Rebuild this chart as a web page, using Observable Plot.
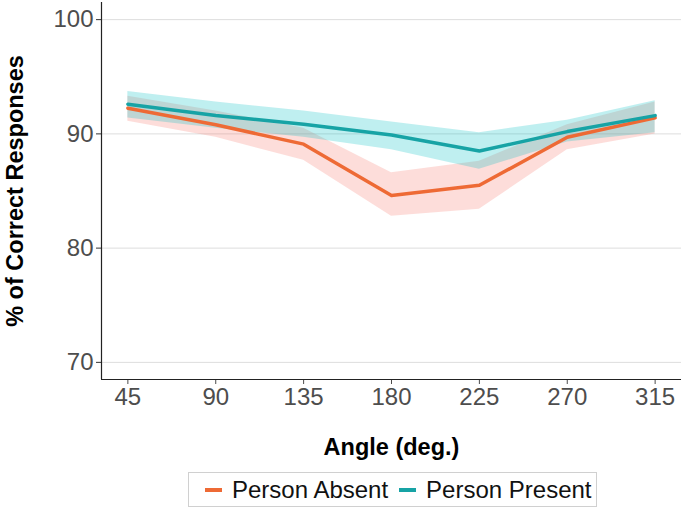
<!DOCTYPE html>
<html><head><meta charset="utf-8">
<script src="https://cdn.jsdelivr.net/npm/d3@7"></script>
<script src="https://cdn.jsdelivr.net/npm/@observablehq/plot@0.6"></script>
<style>
body{margin:0;background:#fff;font-family:"Liberation Sans",Arial,sans-serif;}
#legend{position:absolute;left:188px;top:472px;width:409px;height:35px;box-sizing:border-box;border:1px solid #d0d0d0;display:flex;align-items:center;justify-content:flex-start;padding-left:16px;gap:11px;font-size:24px;color:#111;}
.sw{display:inline-block;width:17px;height:3.5px;margin-right:10px;vertical-align:middle;position:relative;top:-1px;}
</style></head><body>
<div id="chart"></div>
<div id="legend"></div>
<script>
const angles = [45, 90, 135, 180, 225, 270, 315];
const absentMean = [92.25, 90.8, 89.1, 84.6, 85.5, 89.7, 91.4];
const absentLow  = [91.1, 89.7, 87.7, 82.8, 83.4, 88.6, 90.0];
const absentHigh = [93.3, 92.0, 90.5, 86.6, 87.6, 90.8, 92.8];
const presentMean = [92.6, 91.6, 90.85, 89.9, 88.5, 90.2, 91.6];
const presentLow  = [91.4, 90.5, 89.7, 88.6, 86.9, 89.3, 90.1];
const presentHigh = [93.7, 92.8, 92.0, 91.05, 90.1, 91.2, 92.9];
const seriesNames = ["Person Absent", "Person Present"];
const lineColors = ["#EE6A35", "#17A3A5"];
const bandColors = ["#F8766D", "#00BFC4"];
const yTicks = [70, 80, 90, 100];

const rows = [];
angles.forEach((a, i) => {
  rows.push({angle: a, series: seriesNames[0], mean: absentMean[i], lo: absentLow[i], hi: absentHigh[i]});
  rows.push({angle: a, series: seriesNames[1], mean: presentMean[i], lo: presentLow[i], hi: presentHigh[i]});
});

const plot = Plot.plot({
  width: 685, height: 465,
  marginLeft: 101, marginRight: 4, marginTop: 2, marginBottom: 86,
  style: {fontFamily: '"Liberation Sans", Arial, sans-serif', background: "#fff"},
  x: {domain: [31.5, 328.5], ticks: angles},
  y: {domain: [68.5, 101.5], ticks: yTicks},
  color: {domain: seriesNames, range: lineColors},
  marks: [
    Plot.gridY(yTicks, {stroke: "#dddddd", strokeOpacity: 1, strokeWidth: 1}),
    Plot.areaY(rows, {x: "angle", y1: "lo", y2: "hi", z: "series", fill: d => d.series === seriesNames[0] ? bandColors[0] : bandColors[1], fillOpacity: 0.25}),
    Plot.lineY(rows, {x: "angle", y: "mean", z: "series", stroke: "series", strokeWidth: 3.5}),
    Plot.axisY({ticks: yTicks, tickSize: 5, tickPadding: 3, fontSize: 24, color: "#4d4d4d", label: null, stroke: "#333"}),
    Plot.axisX({ticks: angles, tickSize: 5, tickPadding: 3, fontSize: 24, color: "#4d4d4d", label: null}),
    Plot.ruleX([31.5], {stroke: "#222", strokeWidth: 1.2}),
    Plot.ruleY([68.5], {stroke: "#222", strokeWidth: 1.2}),
    Plot.text(["% of Correct Responses"], {frameAnchor: "left", textAnchor: "middle", rotate: -90, dx: -86, fontSize: 23.5, fontWeight: "bold", fill: "#000"}),
    Plot.text(["Angle (deg.)"], {frameAnchor: "bottom", dy: 75, fontSize: 23.5, fontWeight: "bold", fill: "#000"})
  ]
});
document.getElementById("chart").appendChild(plot);

const leg = document.getElementById("legend");
seriesNames.forEach((n, i) => {
  const s = document.createElement("span");
  s.innerHTML = `<span class="sw" style="background:${lineColors[i]}"></span>${n}`;
  leg.appendChild(s);
});
</script>
</body></html>
